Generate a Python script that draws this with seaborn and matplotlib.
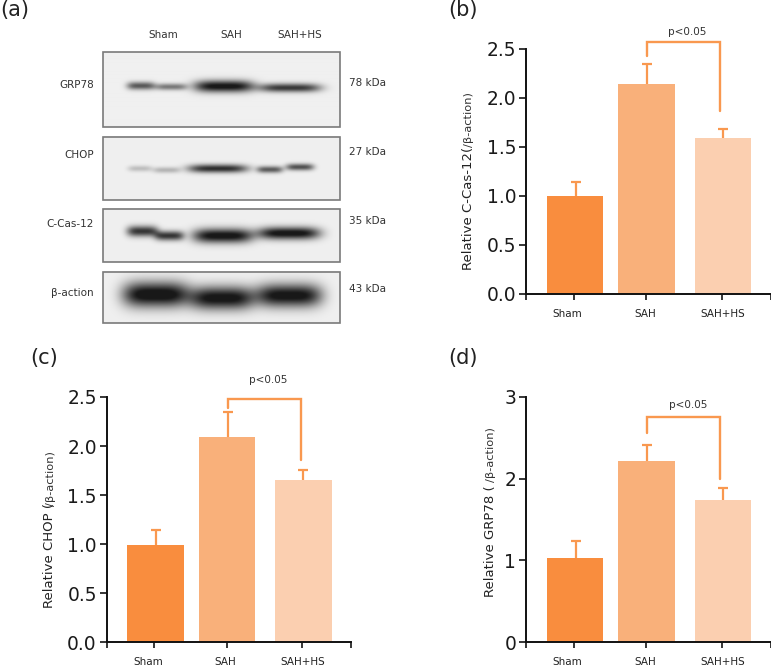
import numpy as np
import pandas as pd
import matplotlib
matplotlib.use('Agg')
import matplotlib.pyplot as plt
import seaborn as sns

# Data
groups = ['Sham', 'SAH', 'SAH+HS']
cas12_mean = [1.00, 2.14, 1.59]
cas12_top = [1.14, 2.34, 1.68]
chop_mean = [0.99, 2.09, 1.655]
chop_top = [1.14, 2.35, 1.755]
grp78_mean = [1.035, 2.22, 1.735]
grp78_top = [1.24, 2.41, 1.89]

# bracket levels: top, left end, right end
cas12_bracket = [2.57, 2.43, 1.86]
chop_bracket = [2.48, 2.385, 1.86]
grp78_bracket = [2.755, 2.553, 2.00]

blot_names = ['GRP78', 'CHOP', 'C-Cas-12', 'β-action']
blot_kda = ['78 kDa', '27 kDa', '35 kDa', '43 kDa']

# band lobes for each blot: start, end, row, half height, darkness
grp78_bands = [(127, 155, 86.5, 4.0, 0.66), (155, 187, 87.5, 3.4, 0.52),
               (194, 254, 87, 6.0, 0.98), (259, 321, 88.5, 4.4, 0.80)]
chop_bands = [(128, 152, 169, 3.0, 0.22), (153, 180, 170.5, 3.0, 0.26),
              (188, 248, 169, 4.2, 0.85), (257, 283, 170, 3.4, 0.65), (286, 314, 167.5, 3.4, 0.70)]
cas12_bands = [(127, 158, 232, 5.4, 0.82), (155, 184, 236.5, 4.8, 0.82),
               (193, 253, 236.5, 7.2, 1.0), (258, 320, 234, 6.2, 1.0)]
actin_bands = [(123, 189, 295, 12.5, 1.05), (190, 254, 298.5, 11.5, 1.0), (256, 322, 296, 11.5, 1.0)]

blot_rows = [(51.7, 127.3), (136.7, 200), (209, 262.3), (271.7, 323)]
blot_band_sets = [grp78_bands, chop_bands, cas12_bands, actin_bands]

sns.set_style('ticks')
plt.rcParams['font.family'] = ['DejaVu Sans']

W, H = 771, 666
fig = plt.figure(figsize=(W / 100, H / 100), dpi=100)

c_line = '#F9984F'
colors = ['#F98D3E', '#F9B07A', '#FBCFB0']
x_left, x_right = -0.662, 2.642
tick_pos = [-0.015, 0.965, 1.98]
label_pos = [-0.10, 0.946, 1.99]
err_pos = [0.012, 0.975, 1.998]
bar_shift = [0, -0.035, 0]


def px_text(x, y, s, **kw):
    return fig.text(x / W, 1 - y / H, s, **kw)


def bar_panel(left, bottom, height, mean, top, ymax, yticks, fmt, bracket, p_xy):
    ax = fig.add_axes([left / W, 1 - bottom / H, 244.6 / W, height / H])
    df = pd.DataFrame({'group': groups, 'value': mean})
    sns.barplot(data=df, x='group', y='value', hue='group', order=groups, hue_order=groups,
                palette=colors, saturation=1, width=0.762, dodge=False, legend=False, ax=ax)
    for patch, s in zip(ax.patches, bar_shift):
        patch.set_x(patch.get_x() + s)
        patch.set_linewidth(0)
    ax.errorbar(err_pos, mean, yerr=[np.zeros(3), np.array(top) - np.array(mean)], fmt='none',
                ecolor=c_line, elinewidth=1.6, capsize=3.6, capthick=1.6, zorder=3)
    # the lower cap sits on the bar top, hide it
    for line in ax.lines:
        if len(line.get_xdata()) == 3 and np.allclose(line.get_ydata(), mean):
            line.set_visible(False)
    ax.plot([0.975, 0.975, 1.96, 1.96], [bracket[1], bracket[0], bracket[0], bracket[2]],
            color=c_line, lw=1.7, clip_on=False, solid_joinstyle='miter', zorder=4)
    ax.set_xlim(x_left, x_right)
    ax.set_ylim(0, ymax)
    ax.set_xticks([x_left] + tick_pos + [x_right])
    ax.set_xticklabels([])
    ax.set_yticks(yticks)
    ax.set_yticklabels([fmt % v for v in yticks], fontsize=13.4, color='#1a1a1a')
    ax.set_xlabel('')
    ax.set_ylabel('')
    ax.tick_params(axis='y', length=5, width=1.3, pad=2)
    ax.tick_params(axis='x', length=4, width=1.3)
    for side in ['left', 'bottom']:
        ax.spines[side].set_linewidth(1.4)
        ax.spines[side].set_color('#111111')
    for side in ['top', 'right']:
        ax.spines[side].set_visible(False)
    for x, name in zip(label_pos, groups):
        ax.annotate(name, xy=(x, 0), xycoords=('data', 'axes fraction'), xytext=(0, -14.5),
                    textcoords='offset points', ha='center', va='center', fontsize=7.5, color='#222222')
    px_text(p_xy[0], p_xy[1], 'p<0.05', ha='center', va='center', fontsize=7.5, color='#333333')
    return ax


def y_title(x, bottom, split, main, small='/β-action)'):
    px_text(x, bottom, main, rotation=90, ha='center', va='bottom', fontsize=9.5, color='#222222')
    px_text(x + 0.5, split, small, rotation=90, ha='center', va='bottom', fontsize=8.2, color='#333333')


# (a) blot strips
ax_a = fig.add_axes([103.3 / W, 1 - 323 / H, 236.4 / W, 271.3 / H])
ax_a.axis('off')
xs = np.arange(103.3, 340.2, 0.5)
for (y0, y1), bands in zip(blot_rows, blot_band_sets):
    ys = np.arange(y0, y1 + 0.5, 0.5)
    xx, yy = np.meshgrid(xs, ys)
    img = np.full(xx.shape, 0.94)
    for start, end, row, half_h, dark in bands:
        cx, half_w = (start + end) / 2, (end - start) / 2
        img -= 0.9 * dark * np.exp(-((xx - cx) / half_w) ** 4) * np.exp(-((yy - row) / half_h) ** 2)
    ax_a.imshow(np.clip(img, 0.1, 1), cmap='gray', vmin=0, vmax=1, extent=(103.3, 339.7, y1, y0),
                aspect='auto', interpolation='bilinear')
    ax_a.add_patch(plt.Rectangle((103.3, y0), 236.4, y1 - y0, fill=False, ec='#7a7a7a', lw=1.2, clip_on=False))
ax_a.set_xlim(103.3, 339.7)
ax_a.set_ylim(323, 51.7)

for x, name in zip([163, 231, 300], groups):
    px_text(x, 35, name, ha='center', va='center', fontsize=7.5, color='#333333')
for y, name in zip([85, 154.7, 224, 293], blot_names):
    px_text(93.7, y, name, ha='right', va='center', fontsize=7.5, color='#333333')
for y, kda in zip([83, 152, 221, 289], blot_kda):
    px_text(349, y, kda, ha='left', va='center', fontsize=7.5, color='#333333')

# (b)-(d) bar panels
bar_panel(526, 293.7, 245, cas12_mean, cas12_top, 2.5, [0, 0.5, 1, 1.5, 2, 2.5], '%.1f', cas12_bracket, (687.3, 32.3))
y_title(469, 270, 147, 'Relative C-Cas-12(')

bar_panel(106.5, 642.3, 245.3, chop_mean, chop_top, 2.5, [0, 0.5, 1, 1.5, 2, 2.5], '%.1f', chop_bracket, (268.3, 380))
y_title(50, 607.7, 505.5, 'Relative CHOP (')

bar_panel(526, 642.3, 245.6, grp78_mean, grp78_top, 3, [0, 1, 2, 3], '%d', grp78_bracket, (687.7, 404.7))
y_title(490.7, 597.3, 482.5, 'Relative GRP78 (')

for x, y, s in [(0, 10, '(a)'), (448, 10, '(b)'), (30.5, 358, '(c)'), (448, 358, '(d)')]:
    px_text(x, y, s, ha='left', va='center', fontsize=15, color='#222222')

fig.savefig('out.png', dpi=100)
